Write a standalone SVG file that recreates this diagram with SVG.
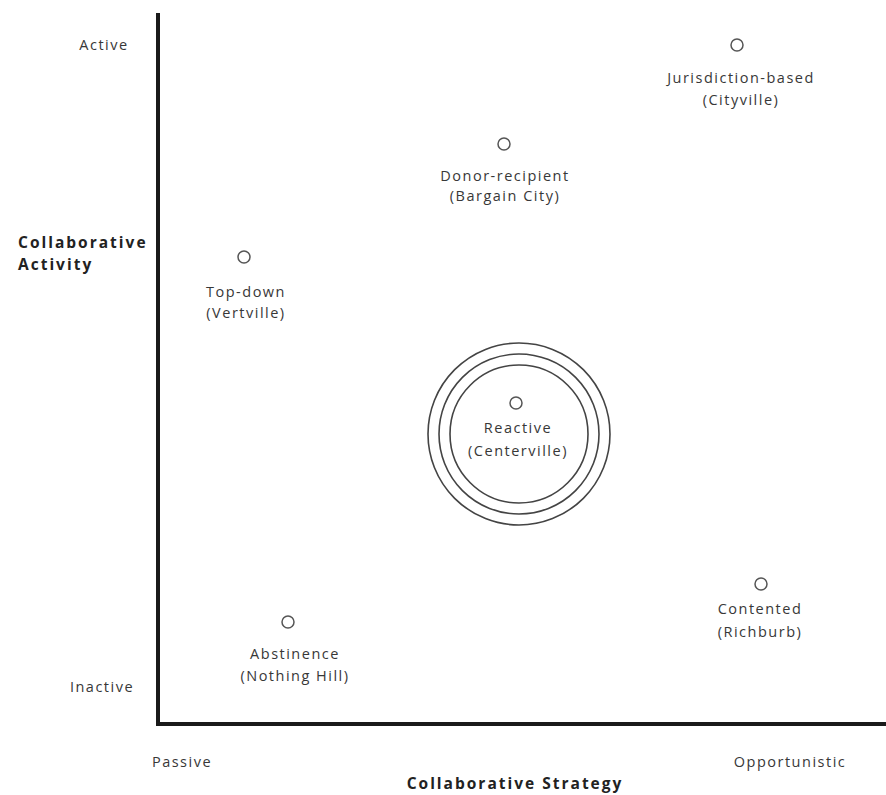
<svg xmlns="http://www.w3.org/2000/svg" width="886" height="795" viewBox="0 0 886 795">
<style>
text{font-family:"Open Sans","Liberation Sans",sans-serif;font-size:14.5px;letter-spacing:1.5px;fill:#383838;text-anchor:middle}
.b{font-weight:bold;fill:#222;font-size:15.5px;letter-spacing:2px}
.l{text-anchor:start}
.dot{fill:none;stroke:#555;stroke-width:1.5}
.ring{fill:none;stroke:#444;stroke-width:1.6}
.axis{stroke:#1a1a1a;stroke-width:4;fill:none}
</style>
<rect width="886" height="795" fill="#fff"/>
<g id="axes">
<path class="axis" d="M158 13 V724 H886"/>
</g>
<g id="axis-labels">
<text x="104" y="50">Active</text>
<text x="102" y="692">Inactive</text>
<text class="b l" x="18" y="248">Collaborative</text>
<text class="b l" x="18" y="270">Activity</text>
<text x="182" y="767">Passive</text>
<text x="790" y="767">Opportunistic</text>
<text class="b" x="515" y="789">Collaborative Strategy</text>
</g>
<g id="jurisdiction">
<circle class="dot" cx="737" cy="45" r="6"/>
<text x="741" y="83">Jurisdiction-based</text>
<text x="741" y="105">(Cityville)</text>
</g>
<g id="donor">
<circle class="dot" cx="504" cy="144" r="6"/>
<text x="505" y="181">Donor-recipient</text>
<text x="505" y="201">(Bargain City)</text>
</g>
<g id="topdown">
<circle class="dot" cx="244" cy="257" r="6"/>
<text x="246" y="297">Top-down</text>
<text x="246" y="318">(Vertville)</text>
</g>
<g id="reactive">
<circle class="ring" cx="519" cy="434" r="91"/>
<circle class="ring" cx="519" cy="434" r="80"/>
<circle class="ring" cx="519" cy="434" r="69"/>
<circle class="dot" cx="516" cy="403" r="6"/>
<text x="518" y="433">Reactive</text>
<text x="518" y="456">(Centerville)</text>
</g>
<g id="abstinence">
<circle class="dot" cx="288" cy="622" r="6"/>
<text x="295" y="659">Abstinence</text>
<text x="295" y="681">(Nothing Hill)</text>
</g>
<g id="contented">
<circle class="dot" cx="761" cy="584" r="6"/>
<text x="760" y="614">Contented</text>
<text x="760" y="637">(Richburb)</text>
</g>
</svg>
